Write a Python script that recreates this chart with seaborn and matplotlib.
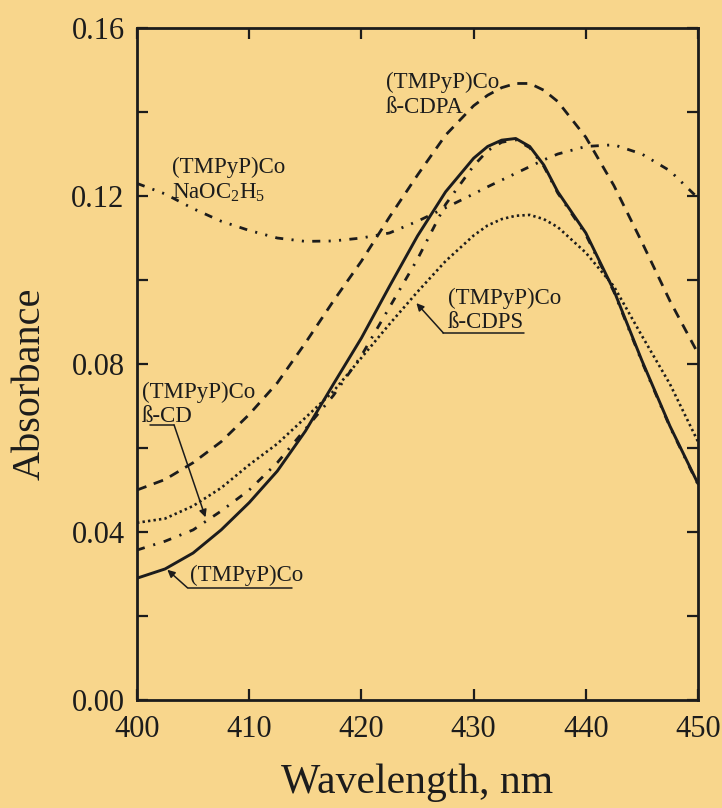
import numpy as np
import pandas as pd
import matplotlib
matplotlib.use("Agg")
from matplotlib import pyplot as plt
import seaborn as sns

# wavelength grid (nm)
wavelength = [400, 402.5, 405, 407.5, 410, 412.5, 415, 417.5, 420, 422.5, 425, 427.5,
              430, 431.25, 432.5, 433.75, 435, 436.25, 437.5, 440, 442.5, 445, 447.5, 450]

# absorbance of each spectrum
co_plain = [0.0290, 0.0312, 0.0350, 0.0405, 0.0470, 0.0545, 0.0640, 0.0752, 0.0862, 0.0985, 0.1105, 0.1210,
            0.1290, 0.1318, 0.1333, 0.1337, 0.1318, 0.1274, 0.1210, 0.1112, 0.0975, 0.0808, 0.0652, 0.0515]
co_cdpa = [0.0500, 0.0525, 0.0565, 0.0615, 0.0680, 0.0755, 0.0850, 0.0950, 0.1045, 0.1150, 0.1250, 0.1345,
           0.1415, 0.1440, 0.1458, 0.1468, 0.1468, 0.1452, 0.1425, 0.1340, 0.1225, 0.1090, 0.0950, 0.0825]
co_cdps = [0.0422, 0.0432, 0.0462, 0.0505, 0.0560, 0.0610, 0.0672, 0.0735, 0.0815, 0.0895, 0.0972, 0.1045,
           0.1106, 0.1130, 0.1145, 0.1153, 0.1155, 0.1145, 0.1126, 0.1065, 0.0985, 0.0867, 0.0752, 0.0615]
co_cd = [0.0357, 0.0378, 0.0405, 0.0450, 0.0500, 0.0565, 0.0645, 0.0725, 0.0820, 0.0935, 0.1050, 0.1180,
         0.1272, 0.1308, 0.1328, 0.1334, 0.1315, 0.1271, 0.1207, 0.1108, 0.0972, 0.0805, 0.0650, 0.0513]
co_naoet = [0.1230, 0.1205, 0.1170, 0.1140, 0.1118, 0.1100, 0.1092, 0.1093, 0.1100, 0.1112, 0.1140, 0.1172,
            0.1205, 0.1222, 0.1238, 0.1254, 0.1270, 0.1286, 0.1300, 0.1318, 0.1322, 0.1300, 0.1260, 0.1195]

bg = "#F8D68C"
ink = "#1c1c1c"

sns.set_theme(style="ticks")
plt.rcParams["font.family"] = ["Liberation Serif", "DejaVu Serif"]
plt.rcParams["mathtext.default"] = "regular"

fig = plt.figure(figsize=(7.22, 8.08), dpi=100, facecolor=bg)
ax = fig.add_axes([0.1898, 0.1337, 0.777, 0.8316])
ax.set_facecolor(bg)

df = pd.DataFrame({"wl": wavelength, "plain": co_plain, "cdpa": co_cdpa,
                   "cdps": co_cdps, "cd": co_cd, "naoet": co_naoet})

# NaOC2H5: dash-dot-dot
sns.lineplot(data=df, x="wl", y="naoet", ax=ax, color=ink, lw=2.0,
             linestyle=(0, (2.9, 3, 0.75, 3, 0.75, 3)))
# beta-CDPA: dashed
sns.lineplot(data=df, x="wl", y="cdpa", ax=ax, color=ink, lw=2.0,
             linestyle=(0, (3.6, 2.8)))
# beta-CDPS: dotted
sns.lineplot(data=df, x="wl", y="cdps", ax=ax, color=ink, lw=1.9,
             linestyle=(0, (0.9, 1.2)))
# beta-CD: dash-dot
sns.lineplot(data=df, x="wl", y="cd", ax=ax, color=ink, lw=2.0,
             linestyle=(0, (2.9, 3.2, 0.75, 3.2)))
# (TMPyP)Co alone: solid
sns.lineplot(data=df, x="wl", y="plain", ax=ax, color=ink, lw=2.1)

ax.set_xlim(400, 450)
ax.set_ylim(0, 0.16)
ax.set_xticks([400, 410, 420, 430, 440, 450])
ax.set_yticks([0.0, 0.04, 0.08, 0.12, 0.16])
ax.set_yticks([0.02, 0.06, 0.10, 0.14], minor=True)
ax.set_yticklabels(["0.00", "0.04", "0.08", "0.12", "0.16"])
ax.tick_params(which="both", direction="in", top=True, right=True,
               length=8, width=1.6, color=ink, labelcolor=ink, labelsize=22)
ax.tick_params(axis="x", pad=11)
ax.tick_params(axis="y", pad=9)
for s in ax.spines.values():
    s.set_linewidth(2.0)
    s.set_color(ink)

ax.set_xlabel("Wavelength, nm", fontsize=30, color=ink, labelpad=14)
ax.set_ylabel("Absorbance", fontsize=29, color=ink, labelpad=16, y=0.47)

lab = dict(fontsize=16.5, color=ink, va="top", ha="left", linespacing=1.2)
ax.text(403.1, 0.1293, "(TMPyP)Co\nNaOC$_2$H$_5$", **lab)
ax.text(422.2, 0.1495, "(TMPyP)Co\nß-CDPA", **lab)
ax.text(427.7, 0.0981, "(TMPyP)Co\nß-CDPS", **lab)
ax.text(400.4, 0.0757, "(TMPyP)Co\nß-CD", **lab)
ax.text(404.7, 0.0322, "(TMPyP)Co", **lab)

# leader lines: underline + arrow to the curve
arrow = dict(arrowstyle="-|>", color=ink, lw=1.1, mutation_scale=11,
             shrinkA=0, shrinkB=0)
ax.plot([427.3, 434.5], [0.0874, 0.0874], color=ink, lw=1.1)
ax.annotate("", xy=(424.9, 0.0945), xytext=(427.3, 0.0874), arrowprops=arrow)
ax.plot([401.2, 403.3], [0.0655, 0.0655], color=ink, lw=1.1)
ax.annotate("", xy=(406.1, 0.0435), xytext=(403.3, 0.0655), arrowprops=arrow)
ax.plot([404.5, 413.8], [0.0267, 0.0267], color=ink, lw=1.1)
ax.annotate("", xy=(402.7, 0.0310), xytext=(404.5, 0.0267), arrowprops=arrow)

fig.savefig("out.png", dpi=100, facecolor=bg)
